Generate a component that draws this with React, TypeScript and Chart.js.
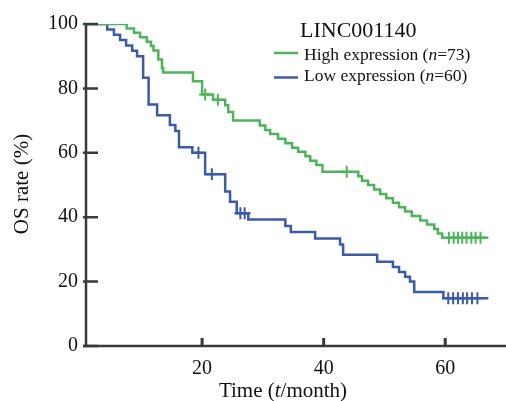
import React, { useEffect, useRef } from "react";
import { Chart, registerables } from "chart.js";
Chart.register(...registerables);

// ---- data ----
const highMonths = [0.9, 7.6, 8.8, 9.8, 10.9, 11.6, 12.0, 12.8, 13.4, 13.6, 18.5, 20.0, 21.8, 23.8, 24.3, 25.1, 29.5, 30.4, 31.2, 32.5, 33.7, 34.8, 35.8, 37.0, 37.8, 38.8, 39.8, 45.7, 46.3, 47.3, 48.3, 49.3, 50.3, 51.4, 52.4, 53.4, 54.5, 55.9, 57.0, 58.2, 58.8, 59.5, 67.1];
const highRates = [100, 98.6, 97.3, 95.9, 94.5, 93.2, 91.8, 89.0, 86.3, 84.9, 82.2, 78.1, 76.5, 74.8, 72.7, 70.0, 68.5, 67.1, 65.8, 64.4, 63.0, 61.6, 60.3, 58.9, 57.5, 56.2, 54.1, 52.7, 51.3, 50.0, 48.6, 47.2, 45.9, 44.5, 43.1, 41.8, 40.4, 39.0, 37.7, 36.3, 34.9, 33.6, 33.6];
const highCensorMonths = [20.5, 22.6, 43.8, 60.6, 61.4, 62.1, 62.8, 63.5, 64.3, 65.0, 65.8];
const highCensorRates = [78.1, 76.5, 54.1, 33.6, 33.6, 33.6, 33.6, 33.6, 33.6, 33.6, 33.6];

const lowMonths = [0.9, 4.4, 5.5, 6.5, 7.5, 8.5, 9.3, 10.3, 11.2, 12.6, 14.7, 15.6, 16.2, 18.4, 20.5, 23.8, 24.6, 25.7, 27.6, 33.7, 34.6, 38.6, 42.7, 43.2, 48.8, 51.4, 52.4, 53.4, 54.2, 54.9, 59.7, 67.1];
const lowRates = [100, 98.3, 96.7, 95.0, 93.3, 91.7, 90.0, 83.3, 75.0, 71.7, 68.6, 66.8, 61.7, 60.0, 53.3, 48.0, 44.8, 41.2, 39.3, 37.3, 35.4, 33.4, 31.5, 28.3, 26.2, 24.5, 23.0, 21.5, 20.0, 16.8, 14.8, 14.8];
const lowCensorMonths = [19.4, 21.6, 26.3, 27.0, 60.5, 61.3, 62.1, 62.9, 63.6, 64.4, 65.3];
const lowCensorRates = [60.0, 53.3, 41.2, 41.2, 14.8, 14.8, 14.8, 14.8, 14.8, 14.8, 14.8];

const xTicks = [20, 40, 60];
const yTicks = [0, 20, 40, 60, 80, 100];

const legendTitle = "LINC001140";
const highLabel = ["High expression (", "n", "=73)"];
const lowLabel = ["Low expression (", "n", "=60)"];
const xTitle = ["Time (", "t", "/month)"];
const yTitle = "OS rate (%)";

const GREEN = "#4cb55a";
const BLUE = "#3b5aa8";
const AXIS = "#3a3a3a";
const SERIF = "'Liberation Serif', 'Times New Roman', serif";

const pts = (xs: number[], ys: number[]) => xs.map((x, i) => ({ x, y: ys[i] }));

function drawMixed(ctx: CanvasRenderingContext2D, parts: string[], x: number, y: number, size: number, align: "left" | "center") {
  const fonts = parts.map((_, i) => (i === 1 ? `italic ${size}px ${SERIF}` : `${size}px ${SERIF}`));
  const widths = parts.map((p, i) => { ctx.font = fonts[i]; return ctx.measureText(p).width; });
  const total = widths.reduce((a, b) => a + b, 0);
  let cx = align === "center" ? x - total / 2 : x;
  ctx.textAlign = "left";
  parts.forEach((p, i) => { ctx.font = fonts[i]; ctx.fillText(p, cx, y); cx += widths[i]; });
}

const decorPlugin = {
  id: "decor",
  afterDatasetsDraw(chart: any) {
    const { ctx, chartArea, scales } = chart;
    const x = scales.x, y = scales.y;
    const y0 = y.getPixelForValue(0);
    const y100 = y.getPixelForValue(100);
    const xl = chartArea.left;
    ctx.save();
    ctx.strokeStyle = AXIS;
    ctx.lineWidth = 2.5;
    ctx.beginPath();
    ctx.moveTo(xl, y100 - 1);
    ctx.lineTo(xl, y0 + 1);
    ctx.moveTo(xl - 3, y0);
    ctx.lineTo(chartArea.right, y0);
    ctx.stroke();
    ctx.beginPath();
    for (const v of yTicks) {
      const py = y.getPixelForValue(v);
      ctx.moveTo(xl - 3, py);
      ctx.lineTo(xl + 12, py);
    }
    ctx.stroke();
    ctx.lineWidth = 3;
    ctx.beginPath();
    for (const v of xTicks) {
      const px = x.getPixelForValue(v);
      ctx.moveTo(px, y0);
      ctx.lineTo(px, y0 - 8);
    }
    ctx.stroke();

    // titles
    ctx.fillStyle = "#111";
    ctx.textBaseline = "alphabetic";
    drawMixed(ctx, xTitle, 283, 397, 21, "center");
    ctx.save();
    ctx.translate(22, 184);
    ctx.rotate(-Math.PI / 2);
    ctx.textAlign = "center";
    ctx.textBaseline = "middle";
    ctx.font = `21px ${SERIF}`;
    ctx.fillText(yTitle, 0, 0);
    ctx.restore();

    // legend
    ctx.textBaseline = "middle";
    ctx.textAlign = "left";
    ctx.font = `22px ${SERIF}`;
    ctx.fillText(legendTitle, 300, 31);
    ctx.lineWidth = 2.5;
    ctx.strokeStyle = GREEN;
    ctx.beginPath(); ctx.moveTo(274, 53); ctx.lineTo(298, 53); ctx.stroke();
    ctx.strokeStyle = BLUE;
    ctx.beginPath(); ctx.moveTo(274, 77.5); ctx.lineTo(298, 77.5); ctx.stroke();
    ctx.textBaseline = "middle";
    drawMixed(ctx, highLabel, 304, 55, 17.5, "left");
    drawMixed(ctx, lowLabel, 304, 76.5, 17.5, "left");
    ctx.restore();
  },
};

export default function App() {
  const ref = useRef<HTMLCanvasElement | null>(null);
  useEffect(() => {
    if (!ref.current) return;
    const chart = new Chart(ref.current, {
      type: "line",
      data: {
        datasets: [
          { data: pts(highMonths, highRates), borderColor: GREEN, borderWidth: 2.5, stepped: true, pointRadius: 0, fill: false },
          { data: pts(lowMonths, lowRates), borderColor: BLUE, borderWidth: 2.5, stepped: true, pointRadius: 0, fill: false },
          { data: pts(highCensorMonths, highCensorRates), showLine: false, pointStyle: "cross", pointRadius: 6, pointBorderWidth: 2, borderColor: GREEN, backgroundColor: GREEN },
          { data: pts(lowCensorMonths, lowCensorRates), showLine: false, pointStyle: "cross", pointRadius: 6, pointBorderWidth: 2, borderColor: BLUE, backgroundColor: BLUE },
        ],
      },
      options: {
        responsive: false,
        animation: false,
        layout: { autoPadding: false, padding: { top: 24, right: 0, left: 0, bottom: 0 } },
        plugins: { legend: { display: false }, tooltip: { enabled: false } },
        scales: {
          x: {
            type: "linear",
            min: 0.9,
            max: 70,
            grid: { display: false, drawTicks: false },
            border: { display: false },
            afterBuildTicks: (s: any) => { s.ticks = xTicks.map((v) => ({ value: v })); },
            ticks: { color: "#111", padding: 11, maxRotation: 0, font: { family: SERIF, size: 20 } },
            afterFit: (s: any) => { s.height = 55; s.paddingLeft = 0; s.paddingRight = 0; },
          },
          y: {
            type: "linear",
            min: 0,
            max: 100,
            grid: { display: false, drawTicks: false },
            border: { display: false },
            afterBuildTicks: (s: any) => { s.ticks = yTicks.map((v) => ({ value: v })); },
            ticks: { color: "#111", padding: 8, font: { family: SERIF, size: 20 } },
            afterFit: (s: any) => { s.width = 86; },
          },
        },
      },
      plugins: [decorPlugin],
    } as any);
    return () => chart.destroy();
  }, []);
  return (
    <div style={{ position: "absolute", left: 0, top: 0, width: 506, height: 401, background: "#fff" }}>
      <canvas ref={ref} width={506} height={401} />
    </div>
  );
}
